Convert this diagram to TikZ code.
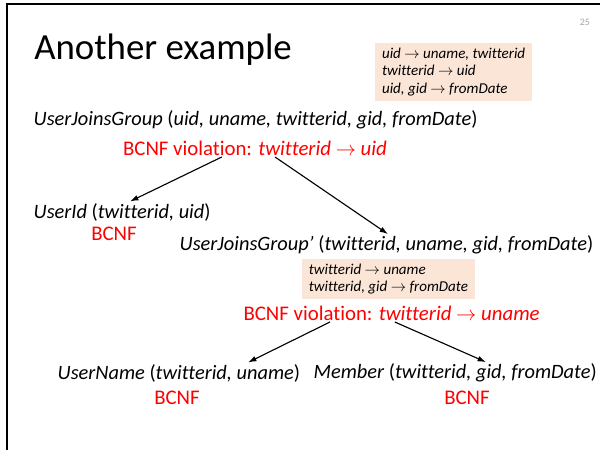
\documentclass[tikz,border=0pt]{standalone}
\usepackage{fontspec}
\setmainfont{Carlito}[Ligatures=NoCommon]
\usepackage{tikz}
\usetikzlibrary{positioning,arrows.meta,calc}
\usepackage{xcolor}
\definecolor{fdpeach}{HTML}{FBE5D6}
\definecolor{bcnfred}{HTML}{FF0000}

\begin{document}
\begin{tikzpicture}[
    rel/.style={anchor=west, inner sep=1pt, font=\fontsize{14.5}{17}\selectfont},
    viol/.style={inner sep=1pt, text=bcnfred, font=\fontsize{14.8}{17}\selectfont},
    fdbox/.style={fill=fdpeach, align=left, inner xsep=5pt, inner ysep=3pt,
                  font=\fontsize{10.7}{12.7}\selectfont\itshape},
    arr/.style={-{Latex[length=6pt,width=4pt]}, thick}
  ]
    \useasboundingbox (0,0) rectangle (15,11.25);
    % slide frame
    \draw[line width=1.4pt] (0.175,0) -- (0.175,11.15) -- (15,11.15);
    \node[font=\scriptsize, text=gray!70] (pagenum) at (14.62,10.7) {25};

    % =========================================================
    % TITLE AND GIVEN DEPENDENCIES
    % =========================================================
    \node[anchor=base west, inner sep=0pt, font=\fontsize{26.2}{31}\selectfont] (title) at (0.85,9.75) {Another example};
    \node[fdbox] (fd1) at (11.34,9.45) {uid $\to$ uname, twitterid\\twitterid $\to$ uid\\uid, gid $\to$ fromDate};

    % =========================================================
    % FIRST DECOMPOSITION
    % =========================================================
    \node[rel] (ujg) at (0.8,8.25) {\textit{UserJoinsGroup} (\textit{uid, uname, twitterid, gid, fromDate})};
    \node[viol] (v1) at (6.375,7.55) {BCNF violation: \textit{twitterid} $\to$ \textit{uid}};

    % Relation UserId
    \node[rel] (uid) at (0.8,5.95) {\textit{UserId} (\textit{twitterid, uid})};
    \node[viol] (b1) at (2.85,5.4) {BCNF};

    % Relation UserJoinsGroup'
    \node[rel] (ujg2) at (4.45,5.125) {\textit{UserJoinsGroup'} (\textit{twitterid, uname, gid, fromDate})};
    \node[fdbox] (fd2) at (9.71,4.275) {twitterid $\to$ uname\\twitterid, gid $\to$ fromDate};
    \node[viol] (v2) at (9.79,3.425) {BCNF violation: \textit{twitterid} $\to$ \textit{uname}};

    \draw[arr] ($(v1.south)+(-0.83,0)$) -- ($(uid.north west)+(2.45,0)$);
    \draw[arr] ($(v1.south)+(0.5,0)$) -- ($(ujg2.north west)+(5.25,0)$);

    % =========================================================
    % SECOND DECOMPOSITION
    % =========================================================
    \node[rel] (uname) at (1.4,1.925) {\textit{UserName} (\textit{twitterid, uname})};
    \node[viol] (b2) at (4.425,1.3) {BCNF};
    \node[rel] (member) at (7.8,1.925) {\textit{Member} (\textit{twitterid, gid, fromDate})};
    \node[viol] (b3) at (11.675,1.3) {BCNF};

    \draw[arr] ($(v2.south)+(-1.54,0)$) -- ($(uname.north west)+(4.8,0)$);
    \draw[arr] ($(v2.south)+(0.08,0)$) -- ($(member.north west)+(4.35,0)$);
\end{tikzpicture}
\end{document}
